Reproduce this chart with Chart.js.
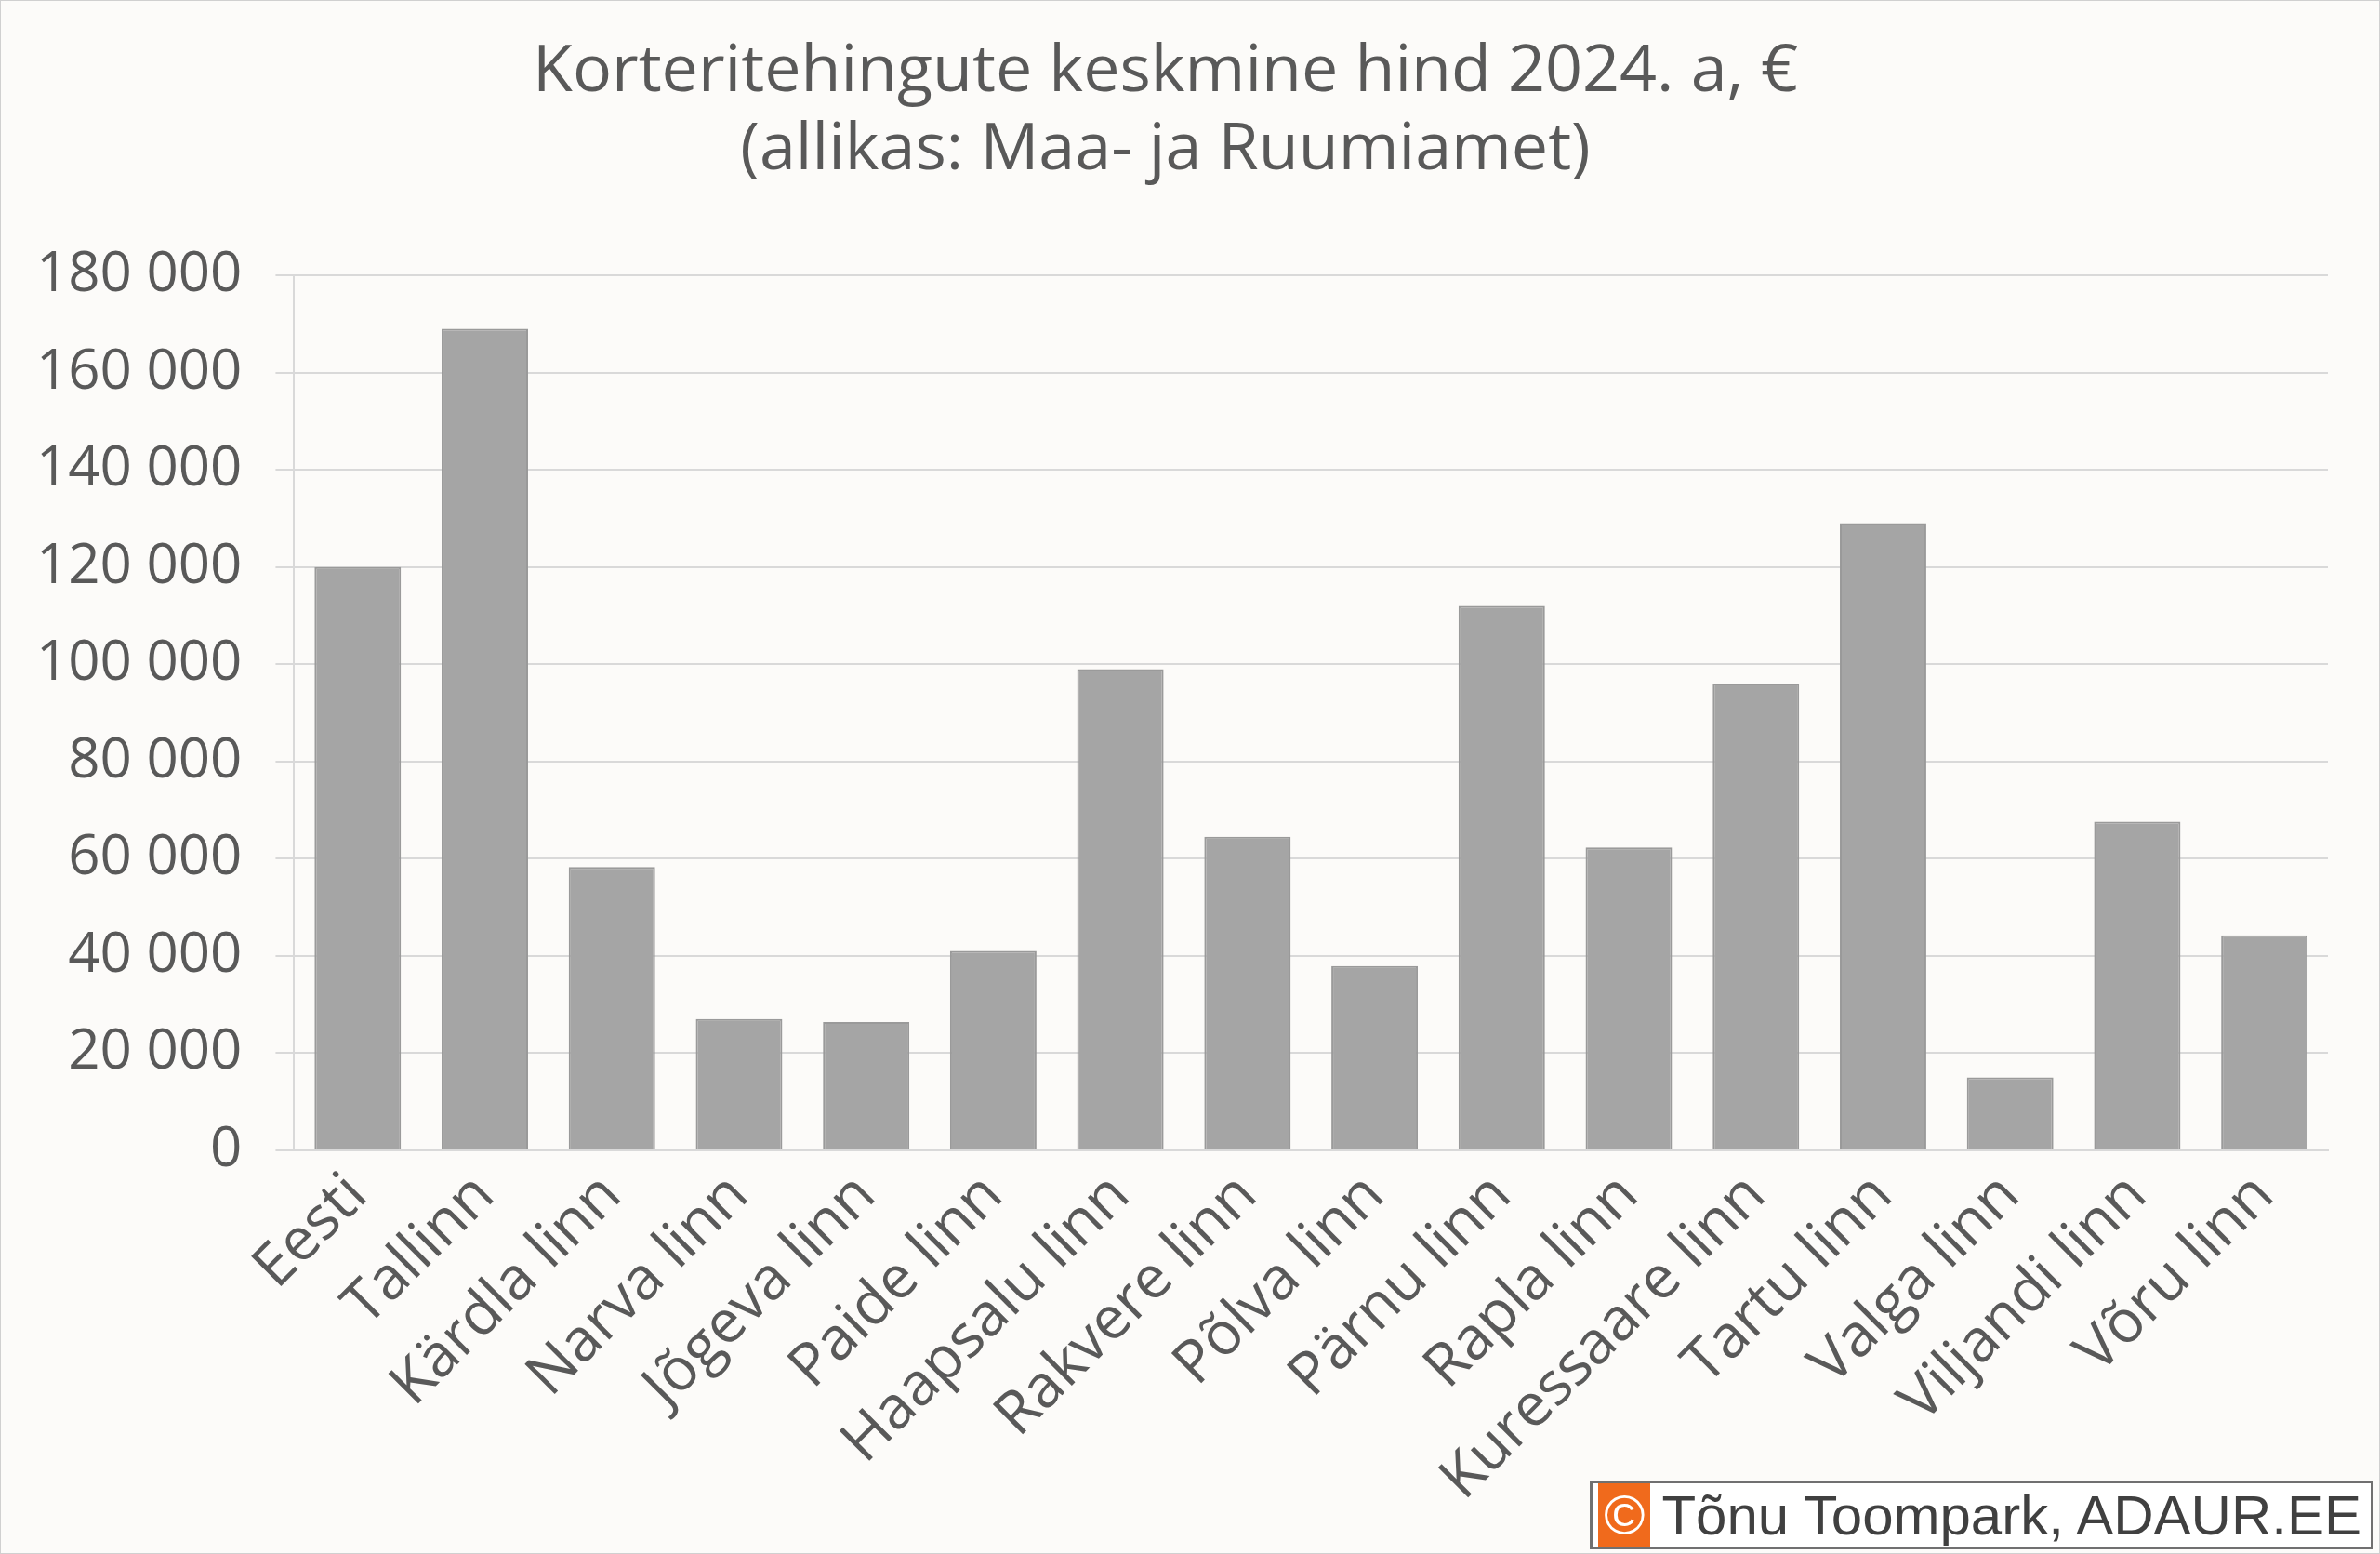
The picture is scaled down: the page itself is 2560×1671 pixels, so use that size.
<!DOCTYPE html>
<html><head><meta charset="utf-8">
<script src="https://cdn.jsdelivr.net/npm/chart.js@4"></script>
<style>
body{margin:0;background:#fcfbf9;}
#wrap{position:relative;width:2560px;height:1671px;border:1px solid #d0d0d0;box-sizing:border-box;}
#mark{position:absolute;right:6px;bottom:4px;background:#fff;border:3px solid #707070;font:60px "Liberation Sans",Arial,sans-serif;color:#404040;padding:0 10px 0 6px;display:flex;align-items:center;height:68px;}
#mark span{background:#f06a1c;color:#fff;padding:0 6px;margin-right:12px;}
</style></head><body>
<div id="wrap"><canvas id="c" width="2558" height="1669"></canvas>
<div id="mark"><span>©</span>Tõnu Toompark, ADAUR.EE</div></div>
<script>
var categories = ['Eesti','Tallinn','Kärdla linn','Narva linn','Jõgeva linn','Paide linn','Haapsalu linn','Rakvere linn','Põlva linn','Pärnu linn','Rapla linn','Kuressaare linn','Tartu linn','Valga linn','Viljandi linn','Võru linn']
var prices = [120000,169000,58300,27000,26400,41000,99000,64500,37900,112000,62300,96000,129000,15000,67600,44200]
var titleLines = ['Korteritehingute keskmine hind 2024. a, €','(allikas: Maa- ja Ruumiamet)']

var ctx = document.getElementById('c').getContext('2d')
new Chart(ctx, {
    type: 'bar',
    data: {
        labels: categories,
        datasets: [{
            data: prices,
            backgroundColor: '#a5a5a5',
            borderColor: '#9a9a9a',
            borderWidth: 2,
            barPercentage: 0.68,
            categoryPercentage: 1
        }]
    },
    options: {
        responsive: false,
        animation: false,
        layout: {padding: {left: 2, right: 55, top: 35, bottom: 38}},
        plugins: {
            legend: {display: false},
            title: {
                display: true,
                text: titleLines,
                color: '#595959',
                font: {size: 70, family: 'Open Sans', weight: 'normal'},
                lineHeight: 1.6,
                padding: {bottom: 92}
            }
        },
        scales: {
            x: {
                grid: {display: false},
                border: {color: '#d9d9d9', width: 2},
                ticks: {
                    minRotation: 45, maxRotation: 45,
                    color: '#595959',
                    font: {size: 64, family: 'Open Sans'}
                }
            },
            y: {
                min: 0, max: 180000,
                ticks: {
                    stepSize: 20000,
                    color: '#595959',
                    font: {size: 60, family: 'Open Sans'},
                    padding: 36,
                    callback: function(v){return v.toLocaleString('en-US').replace(/,/g,' ')}
                },
                grid: {color: '#d9d9d9', lineWidth: 2, tickLength: 20},
                border: {color: '#d9d9d9', width: 2}
            }
        }
    }
})
</script></body></html>
